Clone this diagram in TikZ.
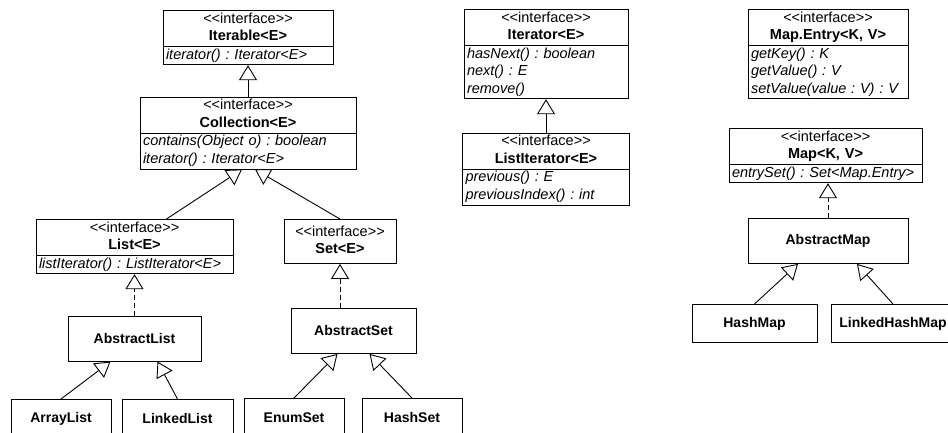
\documentclass[tikz,border=0pt]{standalone}
\usepackage{fontspec}
\setmainfont{Liberation Sans}
\usepackage{tikz}
\usetikzlibrary{arrows.meta}
\usetikzlibrary{shapes.multipart}
\usetikzlibrary{positioning}

\newcommand{\umlsize}{\fontsize{14.5}{17.5}\selectfont\frenchspacing}
\newcommand{\boxsize}{\fontsize{14}{17.5}\selectfont\bfseries}
\newcommand{\stereotype}{<\kern0pt<interface>\kern0pt>}
\newcommand{\ifacehead}[1]{\centering\noindent\strut\stereotype\par\noindent\textbf{#1}\strut\par}
\newcommand{\ops}[1]{\raggedright\itshape\strut#1\strut\par}

\tikzset{
  iface/.style={draw, rectangle split, rectangle split parts=2, font=\umlsize,
                text width=#1, inner xsep=3pt, inner ysep=0pt},
  ifacebox/.style={draw, font=\umlsize, text width=#1, inner xsep=3pt,
                   inner ysep=0pt, minimum height=44pt},
  classbox/.style={draw, font=\boxsize, minimum width=#1, minimum height=45pt},
  leafbox/.style={draw, font=\boxsize, minimum width=#1, minimum height=38pt},
  extends/.style={-{Triangle[open, length=15pt, width=18pt]}},
  implements/.style={extends, dash pattern=on 5pt off 3pt}
}

\begin{document}
\begin{tikzpicture}[x=1pt, y=-1pt, line width=0.9pt]
\useasboundingbox (0,0) rectangle (948,432);

\node[iface=164pt, anchor=north] (iterable) at (248,10)
  {\ifacehead{Iterable<E>}\nodepart{second}\ops{iterator() : Iterator<E>}};
\node[iface=210pt, below=31.5pt of iterable] (collection)
  {\ifacehead{Collection<E>}\nodepart{second}\ops{contains(Object o) : boolean\\iterator() : Iterator<E>}};
\node[iface=191pt, anchor=north] (list) at (134.5,219)
  {\ifacehead{List<E>}\nodepart{second}\ops{listIterator() : ListIterator<E>}};
\node[ifacebox=106pt, anchor=north] (set) at (340,219) {\ifacehead{Set<E>}};
\node[classbox=133pt, below=41.5pt of list] (abslist) {AbstractList};
\node[classbox=125pt, anchor=north] (absset) at (353.5,308) {AbstractSet};
\node[leafbox=100pt, anchor=north] (arraylist) at (61,399) {ArrayList};
\node[leafbox=111pt, anchor=north] (linkedlist) at (177.5,399) {LinkedList};
\node[leafbox=100pt, anchor=north] (enumset) at (294,398) {EnumSet};
\node[leafbox=100pt, anchor=north] (hashset) at (412,398) {HashSet};

\node[iface=158pt, anchor=north] (iterator) at (546,9)
  {\ifacehead{Iterator<E>}\nodepart{second}\ops{hasNext() : boolean\\next() : E\\remove()}};
\node[iface=161pt, below=33.5pt of iterator] (listiterator)
  {\ifacehead{ListIterator<E>}\nodepart{second}\ops{previous() : E\\previousIndex() : int}};

\node[iface=154pt, anchor=north] (mapentry) at (828,9)
  {\ifacehead{Map.Entry<K, V>}\nodepart{second}\ops{getKey() : K\\getValue() : V\\setValue(value : V) : V}};
\node[iface=187pt, anchor=north] (map) at (825.5,128)
  {\ifacehead{Map<K, V>}\nodepart{second}\ops{entrySet() : Set<Map.Entry>}};
\node[classbox=160pt, anchor=north] (absmap) at (828,218) {AbstractMap};
\node[leafbox=125pt, anchor=north] (hashmap) at (754.5,304) {HashMap};
\node[leafbox=124pt, anchor=north] (linkedhashmap) at (893,304) {LinkedHashMap};

\draw[extends] (collection.north) -- (iterable.south);
\draw[extends] ([xshift=32pt]list.north) -- ([xshift=-6pt]collection.south);
\draw[extends] (set.north) -- ([xshift=7pt]collection.south);
\draw[implements] (abslist.north) -- (list.south);
\draw[extends] (arraylist.north) -- ([xshift=-24pt]abslist.south);
\draw[extends] (linkedlist.north) -- ([xshift=23pt]abslist.south);
\draw[implements] (absset.north -| set.south) -- (set.south);
\draw[extends] (enumset.north) -- ([xshift=-16pt]absset.south);
\draw[extends] (hashset.north) -- ([xshift=16pt]absset.south);
\draw[extends] (listiterator.north) -- (iterator.south);
\draw[implements] (absmap.north) -- (absmap.north |- map.south);
\draw[extends] (hashmap.north) -- ([xshift=-30pt]absmap.south);
\draw[extends] (linkedhashmap.north) -- ([xshift=29pt]absmap.south);
\end{tikzpicture}
\end{document}
